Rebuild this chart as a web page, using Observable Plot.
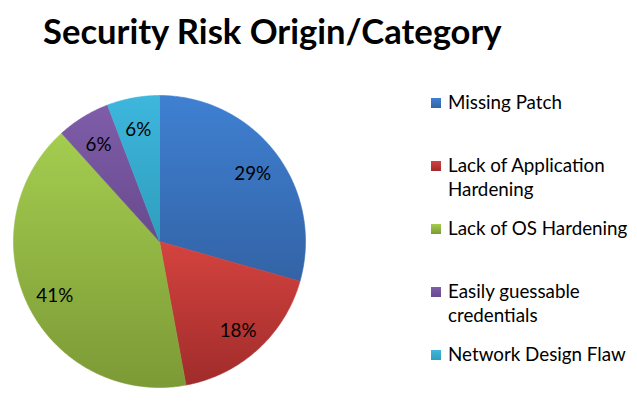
<!DOCTYPE html>
<html>
<head>
<meta charset="utf-8">
<script src="https://cdn.jsdelivr.net/npm/d3@7"></script>
<script src="https://cdn.jsdelivr.net/npm/@observablehq/plot@0.6"></script>
<style>
  html, body { margin: 0; padding: 0; background: #fff; }
  #wrap { position: relative; width: 637px; height: 408px; overflow: hidden; font-family: Lato, "Open Sans", sans-serif; }
  #chart { position: absolute; left: 0; top: 0; }
  #title { position: absolute; left: 43px; top: 14px; font-weight: 700; font-size: 34.6px; line-height: 34px; color: #000; white-space: nowrap; }
  #legend { position: absolute; left: 431px; top: 0; }
  .item { position: absolute; left: 0; white-space: nowrap; font-size: 18.8px; line-height: 24px; color: #000; }
  .sw { position: absolute; left: 0; width: 10px; height: 10px; top: 7px; }
  .lbl { position: absolute; left: 17px; top: -1px; }
</style>
</head>
<body>
<div id="wrap">
  <div id="chart"></div>
  <div id="title">Security Risk Origin/Category</div>
  <div id="legend"></div>
</div>
<script>
const categories = ["Missing Patch", "Lack of Application Hardening", "Lack of OS Hardening", "Easily guessable credentials", "Network Design Flaw"];
const legendLines = [["Missing Patch"], ["Lack of Application", "Hardening"], ["Lack of OS Hardening"], ["Easily guessable", "credentials"], ["Network Design Flaw"]];
const values = [29.4, 17.7, 41.2, 5.9, 5.8];
const colorsTop = ["#3F80D2", "#D4433F", "#A4CD4F", "#7F5DA9", "#3EB6DD"];
const colorsBottom = ["#3363A6", "#A02C2B", "#7C9A36", "#684A8E", "#2E9EBD"];

const total = d3.sum(values);
let acc = 0;
const slices = values.map((v, i) => {
  const a0 = acc / total * 2 * Math.PI;
  acc += v;
  const a1 = acc / total * 2 * Math.PI;
  const n = Math.max(2, Math.ceil((a1 - a0) / 0.01));
  const pts = [{x: 0, y: 0}];
  for (let k = 0; k <= n; k++) {
    const t = a0 + (a1 - a0) * k / n;
    pts.push({x: Math.sin(t), y: Math.cos(t)});
  }
  pts.push({x: 0, y: 0});
  const mid = (a0 + a1) / 2;
  return {category: categories[i], value: v, pts, lx: 0.8 * Math.sin(mid), ly: 0.8 * Math.cos(mid), label: Math.round(v) + "%"};
});

const plot = Plot.plot({
  width: 637,
  height: 408,
  margin: 0,
  x: {domain: [-1, 1], range: [13, 305], axis: null},
  y: {domain: [-1, 1], range: [387, 95], axis: null},
  style: {fontFamily: "Lato, 'Open Sans', sans-serif", background: "transparent"},
  marks: [
    ...slices.map((s, i) => Plot.line(s.pts, {x: "x", y: "y", fill: `url(#grad${i})`, stroke: `url(#grad${i})`, strokeWidth: 0.6, curve: "linear"})),
    Plot.text(slices, {x: "lx", y: "ly", text: "label", fontSize: 18.8, fill: "#000", textAnchor: "middle", lineAnchor: "middle", dy: 3})
  ]
});

const svg = d3.select(plot);
const defs = svg.insert("defs", ":first-child");
colorsTop.forEach((c, i) => {
  const g = defs.append("linearGradient").attr("id", `grad${i}`).attr("x1", 0).attr("y1", 0).attr("x2", 0).attr("y2", 1);
  g.append("stop").attr("offset", "0%").attr("stop-color", c);
  g.append("stop").attr("offset", "100%").attr("stop-color", colorsBottom[i]);
});
document.getElementById("chart").appendChild(plot);

const legend = d3.select("#legend");
legendLines.forEach((lines, i) => {
  const item = legend.append("div").attr("class", "item").style("top", (91 + 63 * i) + "px");
  item.append("div").attr("class", "sw").style("background", `linear-gradient(${colorsTop[i]}, ${colorsBottom[i]})`);
  item.append("div").attr("class", "lbl").html(lines.join("<br>"));
});
</script>
</body>
</html>
